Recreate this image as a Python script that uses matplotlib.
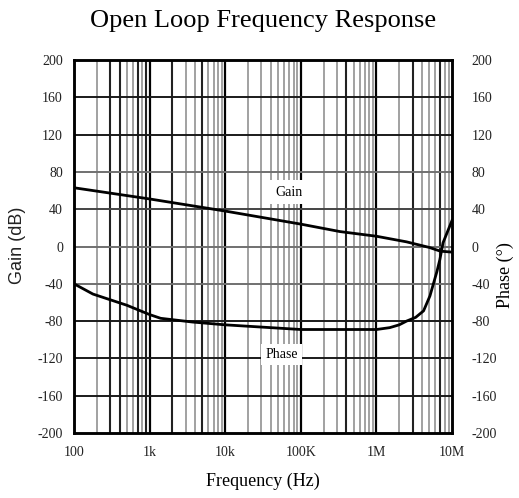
"""Open loop gain/phase vs frequency, Bode-style chart on a log frequency grid."""
import numpy as np
import matplotlib
matplotlib.use("Agg")
import matplotlib.pyplot as plt

plt.rcParams["axes.unicode_minus"] = False

# gain curve (dB) vs frequency (Hz)
gain_freq = [100, 1e3, 1e4, 1e5, 3.3e5, 1e6, 2.5e6, 5e6, 7e6, 1e7]
gain_db = [63, 51, 38, 24, 16, 11, 5, -1, -5, -6]

# phase curve (deg) vs frequency (Hz)
phase_freq = [100, 178, 500, 1e3, 1.4e3, 3.7e3, 1e4, 1e5, 1e6, 1.5e6, 2e6,
              2.5e6, 3.3e6, 4.2e6, 5.1e6, 6.3e6, 6.9e6, 7.6e6, 1e7]
phase_deg = [-40, -51, -63, -73, -77, -81, -84, -89, -89, -87, -84,
             -80, -76, -69, -53, -27, -14, 4, 28]

x_ticks = [100, 1e3, 1e4, 1e5, 1e6, 1e7]
x_ticklabels = ["100", "1k", "10k", "100K", "1M", "10M"]
y_ticks = list(range(-200, 201, 40))

# minor grid lines that came out heavier on the printed chart
dark_minor = [300, 400, 700, 900, 2e3, 5e3, 4e5, 3e6, 7e6]

SERIF = ["Liberation Serif", "DejaVu Serif"]

fig = plt.figure(figsize=(5.19, 4.98), dpi=100)
ax = fig.add_axes([0.1426, 0.1305, 0.7284, 0.749])
ax.set_xscale("log")
ax.set_xlim(100, 1e7)
ax.set_ylim(-200, 200)

# vertical grid: gray minors, black decades
for dec in [1e2, 1e3, 1e4, 1e5, 1e6]:
    for m in range(2, 10):
        f = dec * m
        dark = any(abs(f / d - 1) < 1e-6 for d in dark_minor)
        ax.axvline(f, color="#222222" if dark else "#9a9a9a",
                   lw=1.5 if dark else 1.3, zorder=1)
for f in x_ticks[1:-1]:
    ax.axvline(f, color="black", lw=1.6, zorder=1)

# horizontal grid
h_color = {80: "#707070", 0: "#707070", -40: "#707070", 40: "#444444"}
for y in y_ticks[1:-1]:
    ax.axhline(y, color=h_color.get(y, "#1a1a1a"), lw=1.4, zorder=1)

ax.plot(gain_freq, gain_db, color="black", lw=2, zorder=3)

ax2 = ax.twinx()
ax2.set_ylim(-200, 200)
ax2.plot(phase_freq, phase_deg, color="black", lw=2, zorder=3)

for a in (ax, ax2):
    for s in a.spines.values():
        s.set_color("black")
        s.set_linewidth(1.8)
    a.set_yticks(y_ticks)
    a.tick_params(length=0, labelsize=10, labelcolor="#222222")
    for lbl in a.get_yticklabels():
        lbl.set_fontfamily(SERIF)

ax.set_xticks(x_ticks)
ax.set_xticklabels(x_ticklabels, fontfamily=SERIF, fontsize=10)
ax.xaxis.set_minor_locator(matplotlib.ticker.NullLocator())
ax.tick_params(axis="x", pad=9)
ax.tick_params(axis="y", pad=8)
ax2.tick_params(axis="y", pad=14)

ax.text(6.9e4, 58, "Gain", family=SERIF, fontsize=10, ha="center", va="center",
        bbox=dict(facecolor="white", edgecolor="none", pad=4), zorder=4)
ax.text(5.6e4, -116, "Phase", family=SERIF, fontsize=10, ha="center", va="center",
        bbox=dict(facecolor="white", edgecolor="none", pad=3), zorder=4)

ax.set_title("Open Loop Frequency Response", family=SERIF, fontsize=19, pad=24)
ax.set_xlabel("Frequency (Hz)", family=SERIF, fontsize=13, labelpad=10)
fig.text(18 / 519, 1 - 245 / 498, "Gain (dB)", rotation=90, ha="center", va="center",
         family=["Liberation Sans", "DejaVu Sans"], fontsize=13, color="#222222")
fig.text(505 / 519, 1 - 275 / 498, "Phase (°)", rotation=90, ha="center", va="center",
         family=SERIF, fontsize=13)

fig.savefig("out.png", dpi=100)
